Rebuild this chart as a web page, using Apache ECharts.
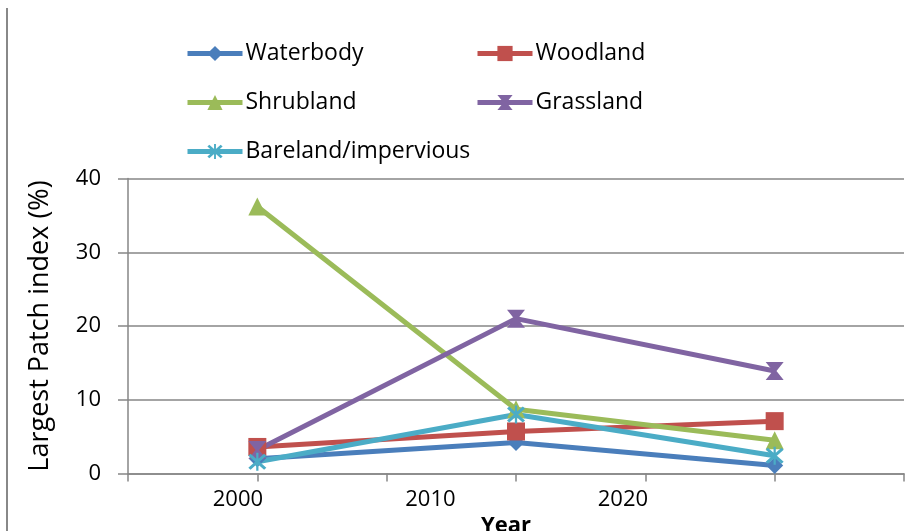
<!DOCTYPE html>
<html>
<head>
<meta charset="utf-8">
<script src="https://cdn.jsdelivr.net/npm/echarts@6/dist/echarts.min.js"></script>
<style>
  html, body { margin: 0; padding: 0; background: #fff; }
  #chart { width: 920px; height: 531px; }
</style>
</head>
<body>
<div id="chart"></div>
<script>
// Sampling slots on the horizontal axis (0..6 grid of tick marks)
const slots = [1, 3, 5];
// Year labels shown under the axis
const yearLabels = [2000, 2010, 2020];

// Largest Patch index (%) per land cover class
const waterbody = [2.0, 4.2, 1.1];
const woodland = [3.6, 5.7, 7.1];
const shrubland = [36.2, 8.7, 4.5];
const grassland = [3.2, 21.0, 13.9];
const bareland = [1.6, 8.0, 2.4];

const FONT = 'Open Sans';
const AXIS_GREY = '#868686';

const hourglass = 'path://M0,0 L20,0 L12,10 L20,20 L0,20 L8,10 Z';
const asterisk = 'path://M2,4 L4,2 L18,16 L16,18 Z M16,2 L18,4 L4,18 L2,16 Z M9,1 L11,1 L11,19 L9,19 Z';

const classes = [
  { name: 'Waterbody', values: waterbody, color: '#4A7EBB', symbol: 'diamond', size: 17 },
  { name: 'Woodland', values: woodland, color: '#C0504D', symbol: 'rect', size: 18 },
  { name: 'Shrubland', values: shrubland, color: '#9BBB59', symbol: 'triangle', size: 18 },
  { name: 'Grassland', values: grassland, color: '#8064A2', symbol: hourglass, size: 18 },
  { name: 'Bareland/impervious', values: bareland, color: '#4BACC6', symbol: asterisk, size: 18 }
];

const legendSpots = [
  { left: 185, top: 42 },
  { left: 475, top: 42 },
  { left: 185, top: 91 },
  { left: 475, top: 91 },
  { left: 185, top: 140 }
];

const chart = echarts.init(document.getElementById('chart'), null, { renderer: 'canvas' });

chart.setOption({
  animation: false,
  backgroundColor: '#fff',
  textStyle: { fontFamily: FONT },
  grid: { left: 128, right: 16, top: 178.5, bottom: 57.5, containLabel: false, outerBoundsMode: 'none' },
  legend: classes.map((c, i) => ({
    data: [c.name],
    left: legendSpots[i].left,
    top: legendSpots[i].top,
    padding: 0,
    itemWidth: 55,
    itemHeight: 19,
    itemGap: 4,
    lineStyle: { width: 5 },
    textStyle: { fontFamily: FONT, fontSize: 23, color: '#000', padding: [0, 0, 0, -2] },
    selectedMode: false
  })),
  xAxis: [
    {
      type: 'value',
      min: 0,
      max: 6,
      interval: 1,
      axisLine: { show: true, lineStyle: { color: AXIS_GREY, width: 1.5 } },
      axisTick: { show: true, length: 8, lineStyle: { color: AXIS_GREY, width: 1.5 } },
      axisLabel: { show: false },
      splitLine: { show: false },
      name: 'Year',
      nameLocation: 'middle',
      nameGap: 41,
      nameTextStyle: { fontFamily: FONT, fontSize: 22, fontWeight: 'bold', color: '#000', padding: [0, 20, 0, 0] }
    },
    {
      type: 'value',
      position: 'bottom',
      min: 1994.29,
      max: 2034.6,
      axisLine: { show: false },
      axisTick: { show: false },
      splitLine: { show: false },
      axisLabel: {
        customValues: yearLabels,
        formatter: v => String(v),
        margin: 15,
        fontFamily: FONT,
        fontSize: 22,
        color: '#000'
      }
    }
  ],
  yAxis: {
    type: 'value',
    min: 0,
    max: 40,
    interval: 10,
    name: 'Largest Patch index (%)',
    nameLocation: 'middle',
    nameGap: 74,
    nameTextStyle: { fontFamily: FONT, fontSize: 27, color: '#000' },
    axisLine: { show: true, lineStyle: { color: AXIS_GREY, width: 1.5 } },
    axisTick: { show: true, length: 10, lineStyle: { color: AXIS_GREY, width: 1.5 } },
    axisLabel: { margin: 27, fontFamily: FONT, fontSize: 22, color: '#000' },
    splitLine: { show: true, lineStyle: { color: AXIS_GREY, width: 1.5 } }
  },
  graphic: [
    {
      type: 'line',
      shape: { x1: 7, y1: 8, x2: 7, y2: 531 },
      style: { stroke: '#888', lineWidth: 2 },
      silent: true
    }
  ],
  series: classes.map(c => ({
    name: c.name,
    type: 'line',
    xAxisIndex: 0,
    data: c.values.map((v, i) => [slots[i], v]),
    symbol: c.symbol,
    symbolSize: c.size,
    showAllSymbol: true,
    lineStyle: { color: c.color, width: 5 },
    itemStyle: { color: c.color, borderWidth: 0 },
    emphasis: { disabled: true }
  }))
});
</script>
</body>
</html>
